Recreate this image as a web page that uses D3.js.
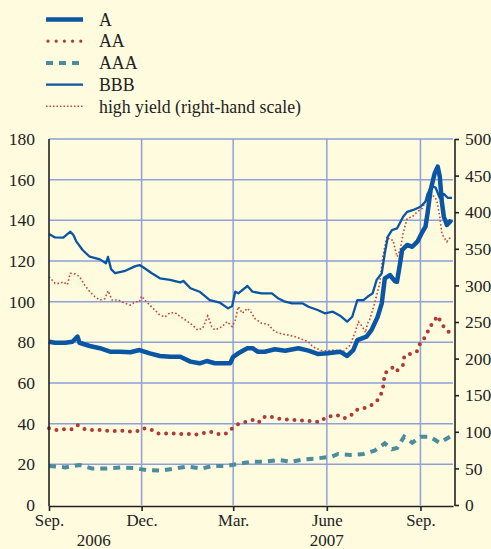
<!DOCTYPE html>
<html><head><meta charset="utf-8">
<script src="https://cdn.jsdelivr.net/npm/d3@7"></script>
<style>
html,body{margin:0;padding:0;background:#fefbdf;}
svg{display:block;}
</style></head>
<body><svg id="c" width="491" height="549"></svg>
<script>
// ---- data ----
const seriesNames = ["A", "AA", "AAA", "BBB", "high yield (right-hand scale)"];
const xTickDates = ["2006-09-01","2006-12-01","2007-03-01","2007-06-01","2007-09-01"];
const xTickLabels = ["Sep.","Dec.","Mar.","June","Sep."];
const yearLabels = [["2006-10-15","2006"],["2007-06-01","2007"]];
const leftTicks = [0,20,40,60,80,100,120,140,160,180];
const rightTicks = [0,50,100,150,200,250,300,350,400,450,500];

const seriesA = [
["2006-09-01",80.3],["2006-09-07",79.8],["2006-09-17",79.8],["2006-09-24",80.3],["2006-09-29",82.8],
["2006-10-01",79.8],["2006-10-11",78.2],["2006-10-21",77.1],["2006-10-31",75.4],["2006-11-10",75.4],
["2006-11-20",75.1],["2006-11-29",76.2],["2006-12-09",74.6],["2006-12-19",73.3],["2006-12-29",72.9],
["2007-01-08",72.9],["2007-01-18",70.5],["2007-01-27",69.7],["2007-02-03",70.8],["2007-02-11",69.7],
["2007-02-21",69.7],["2007-02-26",69.7],["2007-03-01",72.9],["2007-03-06",74.6],["2007-03-15",77.1],
["2007-03-20",77.1],["2007-03-25",75.4],["2007-04-01",75.4],["2007-04-11",76.6],["2007-04-21",75.9],
["2007-05-04",77.1],["2007-05-14",75.9],["2007-05-23",74.3],["2007-06-02",74.6],["2007-06-14",75.4],
["2007-06-21",73.3],["2007-06-27",76.2],["2007-07-01",81.1],["2007-07-10",82.8],["2007-07-15",86.1],
["2007-07-21",92.6],["2007-07-25",99.2],["2007-07-28",111.5],["2007-08-02",113.1],["2007-08-07",110.0],
["2007-08-09",109.8],["2007-08-12",118.9],["2007-08-14",125.4],["2007-08-19",127.9],["2007-08-24",127.0],
["2007-08-29",129.5],["2007-09-03",134.4],["2007-09-06",136.9],["2007-09-08",143.5],["2007-09-11",154.9],
["2007-09-15",163.1],["2007-09-18",166.4],["2007-09-20",161.5],["2007-09-22",149.2],["2007-09-24",141.8],
["2007-09-27",137.7],["2007-09-30",139.5],["2007-10-02",138.8]
];

const seriesBBB = [
["2006-09-01",133.3],["2006-09-07",131.6],["2006-09-15",131.5],["2006-09-22",134.4],["2006-09-25",132.8],
["2006-09-28",129.5],["2006-10-04",125.4],["2006-10-11",122.1],["2006-10-21",120.8],["2006-10-27",118.9],
["2006-10-29",122.0],["2006-11-01",116.0],["2006-11-05",114.0],["2006-11-15",115.2],["2006-11-25",117.5],
["2006-11-29",118.0],["2006-12-04",116.4],["2006-12-11",114.0],["2006-12-19",111.5],["2006-12-29",110.7],
["2007-01-08",109.5],["2007-01-11",110.2],["2007-01-18",106.6],["2007-01-27",104.9],["2007-02-06",100.8],
["2007-02-16",99.5],["2007-02-24",96.7],["2007-02-28",97.9],["2007-03-03",104.9],["2007-03-06",104.1],
["2007-03-15",107.7],["2007-03-20",104.9],["2007-03-29",104.1],["2007-04-08",104.1],["2007-04-14",101.7],
["2007-04-21",100.0],["2007-04-28",99.2],["2007-05-08",99.2],["2007-05-14",97.5],["2007-05-23",95.9],
["2007-05-30",94.3],["2007-06-07",95.1],["2007-06-14",93.1],["2007-06-21",90.2],["2007-06-26",92.6],
["2007-07-01",100.8],["2007-07-07",100.8],["2007-07-11",102.4],["2007-07-16",104.1],["2007-07-20",110.7],
["2007-07-25",114.0],["2007-07-28",123.8],["2007-07-31",132.0],["2007-08-04",135.2],["2007-08-09",136.0],
["2007-08-15",141.8],["2007-08-19",144.2],["2007-08-25",145.1],["2007-09-01",146.7],["2007-09-06",149.2],
["2007-09-08",153.0],["2007-09-12",157.0],["2007-09-16",156.0],["2007-09-20",151.0],["2007-09-24",153.0],
["2007-09-28",151.0],["2007-10-02",151.0]
];

const seriesAA = [
["2006-09-01",37.7],["2006-09-08",36.9],["2006-09-15",37.2],["2006-09-23",37.2],["2006-09-29",39.3],
["2006-10-06",37.4],["2006-10-13",36.9],["2006-10-20",36.9],["2006-10-29",36.5],["2006-11-04",36.4],
["2006-11-12",36.5],["2006-11-20",36.1],["2006-11-27",36.4],["2006-12-02",37.7],["2006-12-10",37.2],
["2006-12-17",35.2],["2006-12-25",35.2],["2007-01-02",35.2],["2007-01-09",34.9],["2007-01-17",34.9],
["2007-01-23",34.6],["2007-01-30",35.2],["2007-02-06",36.1],["2007-02-13",34.9],["2007-02-21",34.9],
["2007-02-28",37.7],["2007-03-06",39.8],["2007-03-13",40.8],["2007-03-20",41.8],["2007-03-26",40.5],
["2007-03-30",43.1],["2007-04-05",43.8],["2007-04-13",42.6],["2007-04-21",42.1],["2007-04-28",42.0],
["2007-05-06",41.5],["2007-05-12",41.5],["2007-05-19",41.0],["2007-05-26",41.0],["2007-05-31",43.1],
["2007-06-06",43.8],["2007-06-11",44.3],["2007-06-18",42.6],["2007-06-24",43.8],["2007-06-30",46.7],
["2007-07-07",47.5],["2007-07-13",48.7],["2007-07-19",50.3],["2007-07-23",53.0],["2007-07-26",56.6],
["2007-07-28",64.8],["2007-08-02",66.7],["2007-08-06",68.0],["2007-08-09",66.0],["2007-08-15",68.9],
["2007-08-16",72.6],["2007-08-19",74.3],["2007-08-23",74.3],["2007-08-29",75.7],["2007-09-01",79.8],
["2007-09-06",82.8],["2007-09-09",86.1],["2007-09-13",89.7],["2007-09-18",93.0],["2007-09-21",90.0],
["2007-09-25",86.9],["2007-09-29",85.1],["2007-10-02",85.7]
];

const seriesAAA = [
["2006-09-01",19.2],["2006-09-17",18.5],["2006-10-01",19.7],["2006-10-13",18.0],["2006-10-28",18.0],
["2006-11-10",18.5],["2006-11-23",18.2],["2006-12-06",17.2],["2006-12-20",16.9],["2007-01-02",17.9],
["2007-01-15",18.9],["2007-01-29",17.9],["2007-02-09",19.2],["2007-02-23",19.2],["2007-03-06",20.2],
["2007-03-19",21.3],["2007-04-01",21.3],["2007-04-15",22.1],["2007-04-27",21.3],["2007-05-11",22.5],
["2007-05-24",23.0],["2007-06-06",23.8],["2007-06-12",25.1],["2007-06-24",24.6],["2007-07-07",25.1],
["2007-07-18",26.7],["2007-07-28",30.3],["2007-08-04",27.4],["2007-08-09",28.0],["2007-08-16",33.6],
["2007-08-24",30.6],["2007-09-01",33.6],["2007-09-10",33.6],["2007-09-20",30.6],["2007-09-30",33.6],
["2007-10-02",34.0]
];

const seriesHY = [
["2006-09-01",311.9],["2006-09-07",302.8],["2006-09-12",302.8],["2006-09-15",305.0],["2006-09-19",301.0],
["2006-09-22",316.5],["2006-09-27",315.5],["2006-10-01",311.9],["2006-10-06",300.5],["2006-10-11",291.4],
["2006-10-16",284.6],["2006-10-21",280.0],["2006-10-26",282.0],["2006-10-29",292.7],["2006-11-02",280.0],
["2006-11-08",280.0],["2006-11-15",275.5],["2006-11-20",273.2],["2006-11-25",277.7],["2006-11-29",277.7],
["2006-12-01",285.5],["2006-12-04",280.0],["2006-12-09",273.2],["2006-12-14",266.4],["2006-12-19",259.5],
["2006-12-24",257.2],["2006-12-29",262.7],["2007-01-03",262.7],["2007-01-08",257.2],["2007-01-13",252.7],
["2007-01-20",245.9],["2007-01-25",239.1],["2007-01-30",241.4],["2007-02-04",258.2],["2007-02-08",243.6],
["2007-02-11",239.1],["2007-02-18",243.6],["2007-02-23",250.4],["2007-02-28",243.6],["2007-03-03",252.7],
["2007-03-06",270.9],["2007-03-10",261.9],["2007-03-15",268.7],["2007-03-19",262.7],["2007-03-22",255.0],
["2007-03-29",248.2],["2007-04-04",247.2],["2007-04-11",236.7],["2007-04-18",233.6],["2007-04-24",232.2],
["2007-05-01",229.9],["2007-05-09",225.4],["2007-05-14",223.0],["2007-05-18",216.2],["2007-05-27",210.8],
["2007-06-02",210.8],["2007-06-09",211.7],["2007-06-17",209.4],["2007-06-24",218.6],["2007-06-29",236.7],
["2007-07-02",250.4],["2007-07-06",243.6],["2007-07-09",235.4],["2007-07-11",248.0],["2007-07-13",252.7],
["2007-07-18",275.5],["2007-07-23",302.8],["2007-07-26",339.2],["2007-07-30",366.5],["2007-08-02",362.0],
["2007-08-05",362.0],["2007-08-09",339.2],["2007-08-12",348.3],["2007-08-15",371.1],["2007-08-19",391.6],
["2007-08-24",393.8],["2007-08-29",400.7],["2007-09-03",405.3],["2007-09-07",419.0],["2007-09-10",426.6],
["2007-09-13",423.5],["2007-09-17",416.6],["2007-09-20",393.8],["2007-09-22",371.1],["2007-09-24",365.7],
["2007-09-27",359.7],["2007-09-29",364.0],["2007-10-02",365.7]
];

// ---- layout ----
const FONT = "'Liberation Serif', 'Times New Roman', serif";
const parse = d3.timeParse("%Y-%m-%d");
const svg = d3.select("#c").attr("font-family", FONT);
const L = 49, R = 453, T = 139, B = 505;

svg.append("rect").attr("width",491).attr("height",549).attr("fill","#fefbdf");

const x = d3.scaleTime().domain([parse("2006-09-01"), parse("2007-10-03")]).range([L, R]);
const yL = d3.scaleLinear().domain([0,180]).range([B, T]);
const yR = d3.scaleLinear().domain([0,500]).range([B, T]);

const gridColor = "#8fa0d8";
svg.append("g").selectAll("line").data(leftTicks.filter(d=>d>0)).join("line")
  .attr("x1",L).attr("x2",R).attr("y1",d=>yL(d)).attr("y2",d=>yL(d))
  .attr("stroke",gridColor).attr("stroke-width",1.5);
svg.append("g").selectAll("line").data(xTickDates.slice(1)).join("line")
  .attr("x1",d=>x(parse(d))).attr("x2",d=>x(parse(d))).attr("y1",T).attr("y2",B)
  .attr("stroke",gridColor).attr("stroke-width",1.5);

const lineL = d3.line().x(d=>x(parse(d[0]))).y(d=>yL(d[1]));
const lineR = d3.line().x(d=>x(parse(d[0]))).y(d=>yR(d[1]));

const colA = "#0a56a4", colAA = "#b03a34", colAAA = "#4b8c9d", colHY = "#c4453d";

svg.append("path").datum(seriesAAA).attr("d",lineL).attr("fill","none")
  .attr("stroke",colAAA).attr("stroke-width",4).attr("stroke-dasharray","7,6");
svg.append("path").datum(seriesAA).attr("d",lineL).attr("fill","none")
  .attr("stroke",colAA).attr("stroke-width",4).attr("stroke-linecap","round").attr("stroke-dasharray","0,7.6");
svg.append("path").datum(seriesHY).attr("d",lineR).attr("fill","none")
  .attr("stroke",colHY).attr("stroke-width",1.6).attr("stroke-dasharray","1.6,2.2");
svg.append("path").datum(seriesBBB).attr("d",lineL).attr("fill","none")
  .attr("stroke",colA).attr("stroke-width",2.3).attr("stroke-linejoin","round");
svg.append("path").datum(seriesA).attr("d",lineL).attr("fill","none")
  .attr("stroke",colA).attr("stroke-width",4.5).attr("stroke-linejoin","round");

// axes
const axL = svg.append("g").attr("transform",`translate(${L},0)`)
  .call(d3.axisLeft(yL).tickValues(leftTicks).tickSize(0).tickSizeOuter(0).tickPadding(14));
const axR = svg.append("g").attr("transform",`translate(${R+2},0)`)
  .call(d3.axisRight(yR).tickValues(rightTicks).tickSize(4).tickSizeOuter(0).tickPadding(6));
const axB = svg.append("g").attr("transform",`translate(0,${B+1})`)
  .call(d3.axisBottom(x).tickValues(xTickDates.map(parse)).tickSize(5).tickSizeOuter(0)
    .tickFormat((d,i)=>xTickLabels[i]).tickPadding(3));
[axL,axR].forEach(g=>g.attr("font-size", 17.5));
axB.attr("font-size", 16.8);
[axL,axR,axB].forEach(g=>{
  g.attr("font-family", FONT);
  g.selectAll("path.domain").attr("stroke","#222").attr("stroke-width",1.6);
  g.selectAll(".tick line").attr("stroke","#222").attr("stroke-width",1.6);
  g.selectAll("text").attr("fill","#222");
});
axL.select("path.domain").attr("d",`M0,${T}V${B+1}`);
axR.select("path.domain").attr("d",`M0,${T}V${B+1}`);

svg.append("g").selectAll("text").data(yearLabels).join("text")
  .attr("x",d=>x(parse(d[0]))).attr("y",546).attr("text-anchor","middle")
  .attr("font-size",17).attr("fill","#222").text(d=>d[1]);

// legend
const lg = svg.append("g");
const legendStyles = [
  {c:colA, w:4.5, da:null, cap:"butt"},
  {c:colAA, w:3.2, da:"0,8.2", cap:"round"},
  {c:colAAA, w:4, da:"7,6", cap:"butt"},
  {c:colA, w:2.3, da:null, cap:"butt"},
  {c:colHY, w:1.5, da:"1.5,2", cap:"butt"}
];
seriesNames.forEach((n,i)=>{
  const yy = 19.5 + i*21.7;
  const s = legendStyles[i];
  lg.append("line").attr("x1", i===1?48:46).attr("x2",83).attr("y1",yy).attr("y2",yy)
    .attr("stroke",s.c).attr("stroke-width",s.w).attr("stroke-linecap",s.cap)
    .attr("stroke-dasharray",s.da);
  lg.append("text").attr("x",99).attr("y",yy).attr("dy","0.35em")
    .attr("font-size",17.8).attr("fill","#222").text(n);
});
</script></body></html>
